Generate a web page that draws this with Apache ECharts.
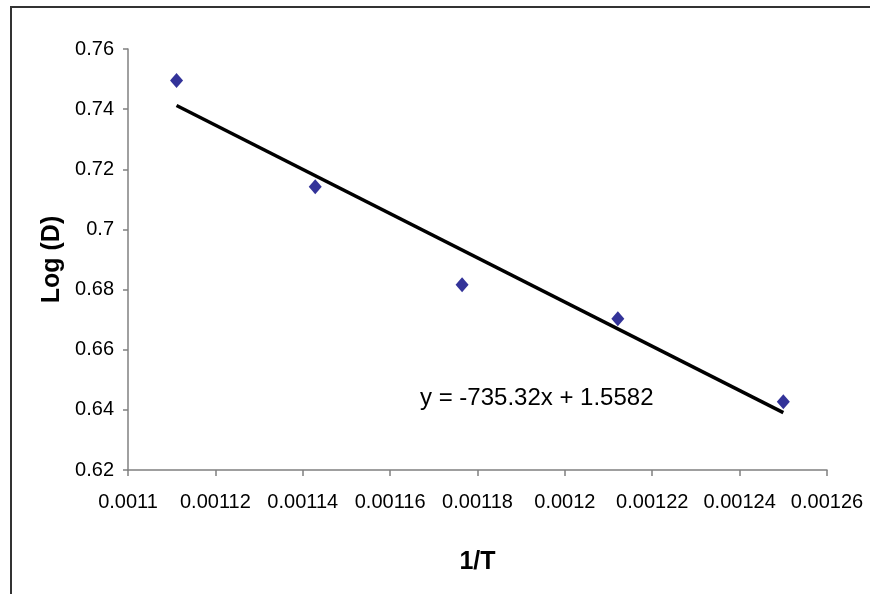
<!DOCTYPE html>
<html>
<head>
<meta charset="utf-8">
<script src="https://cdn.jsdelivr.net/npm/echarts@6/dist/echarts.min.js"></script>
<style>
  html, body { margin: 0; padding: 0; background: #fff; }
  #chart { width: 870px; height: 594px; }
</style>
</head>
<body>
<div id="chart"></div>
<script>
// measured points (1/T, log D)
const invT = [1 / 900, 1 / 875, 1 / 850, 1 / 825, 1 / 800];
const logD = [0.7495, 0.7142, 0.6816, 0.6703, 0.6427];

// linear trend line end points
const trendX = [1 / 900, 1 / 800];
const trendY = [0.7412, 0.6391];

const equation = "y = -735.32x + 1.5582";

const font = "'Liberation Sans', Arial, sans-serif";

const chart = echarts.init(document.getElementById("chart"));
chart.setOption({
  animation: false,
  backgroundColor: "#fff",
  grid: { left: 128, right: 43, top: 49, bottom: 124 },
  xAxis: {
    type: "value",
    min: 0.0011,
    max: 0.00126,
    interval: 0.00002,
    name: "1/T",
    nameLocation: "middle",
    nameGap: 80,
    nameTextStyle: { fontFamily: font, fontSize: 25, fontWeight: "bold", color: "#000" },
    axisLine: { show: true, lineStyle: { color: "#808080", width: 1.5 } },
    axisTick: { show: true, length: 6, lineStyle: { color: "#808080", width: 1.5 } },
    axisLabel: {
      margin: 22,
      fontFamily: font,
      fontSize: 20,
      color: "#000",
      formatter: (v) => String(parseFloat(v.toPrecision(6))),
    },
    splitLine: { show: false },
  },
  yAxis: {
    type: "value",
    min: 0.62,
    max: 0.76,
    interval: 0.02,
    name: "Log (D)",
    nameLocation: "middle",
    nameGap: 63,
    nameRotate: 90,
    nameTextStyle: { fontFamily: font, fontSize: 25, fontWeight: "bold", color: "#000" },
    axisLine: { show: true, lineStyle: { color: "#808080", width: 1.5 } },
    axisTick: { show: true, length: 5, lineStyle: { color: "#808080", width: 1.5 } },
    axisLabel: {
      margin: 14,
      fontFamily: font,
      fontSize: 20,
      color: "#000",
      formatter: (v) => String(parseFloat(v.toPrecision(6))),
    },
    splitLine: { show: false },
  },
  series: [
    {
      type: "line",
      data: trendX.map((x, i) => [x, trendY[i]]),
      symbol: "none",
      lineStyle: { color: "#000", width: 3.5 },
      z: 2,
    },
    {
      type: "scatter",
      data: invT.map((x, i) => [x, logD[i]]),
      symbol: "diamond",
      symbolSize: [13, 15],
      itemStyle: { color: "#000080" },
      z: 3,
    },
  ],
  graphic: [
    {
      type: "polyline",
      shape: { points: [[11, 594], [11, 7], [870, 7]] },
      style: { stroke: "#333", lineWidth: 2, fill: null },
    },
    {
      type: "text",
      left: 420,
      top: 386,
      style: { text: equation, fontFamily: font, fontSize: 24, fill: "#000" },
    },
  ],
});
</script>
</body>
</html>
